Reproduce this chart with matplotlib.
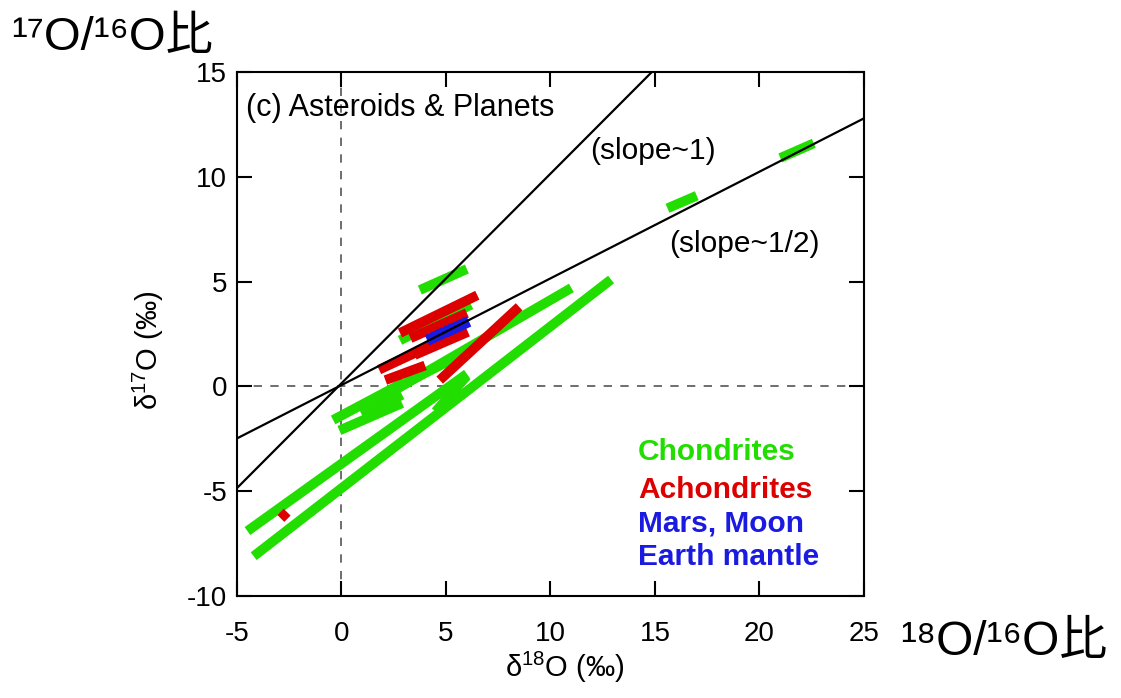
import matplotlib
matplotlib.use("Agg")
import matplotlib.pyplot as plt

plt.rcParams['font.family'] = ['Liberation Sans', 'DejaVu Sans', 'Noto Sans CJK JP']
plt.rcParams['mathtext.fontset'] = 'custom'
plt.rcParams['mathtext.rm'] = 'Liberation Sans'
plt.rcParams['mathtext.it'] = 'Liberation Sans'
plt.rcParams['axes.unicode_minus'] = False

# Reference lines
ref_slopes = [1.0, 0.509]
ref_intercepts = [0.15, 0.065]

# Chondrites (green) segments: x0, y0, x1, y1
chond_x0 = [3.75, 21.0, 15.6, -4.5, -4.2, 2.0, 4.5, -0.4, -0.1, 2.8, 0.8, 1.0]
chond_y0 = [4.6, 10.9, 8.5, -6.9, -8.1, -0.5, -1.2, -1.6, -2.1, 2.2, -1.0, -1.4]
chond_x1 = [6.0, 22.6, 17.0, 6.0, 12.9, 11.0, 6.0, 3.0, 2.9, 6.2, 5.5, 2.9]
chond_y1 = [5.6, 11.6, 9.1, 0.6, 5.1, 4.7, 0.5, 0.2, -0.8, 3.9, 1.4, -0.4]

# Achondrites (red)
achond_x0 = [2.8, 3.3, 3.5, 1.8, 2.1, 4.7, -2.9]
achond_y0 = [2.55, 2.3, 1.5, 0.8, 0.3, 0.3, -6.3]
achond_x1 = [6.5, 6.0, 6.05, 4.6, 4.0, 8.5, -2.6]
achond_y1 = [4.35, 3.5, 2.6, 2.1, 1.0, 3.8, -6.0]

# Mars, Moon, Earth mantle (blue)
planet_x0 = [4.1, 5.0]
planet_y0 = [2.2, 2.6]
planet_x1 = [5.3, 6.1]
planet_y1 = [2.75, 3.1]

xticks = [-5, 0, 5, 10, 15, 20, 25]
yticks = [-10, -5, 0, 5, 10, 15]
leg_labels = ['Chondrites', 'Achondrites', 'Mars, Moon', 'Earth mantle']

GREEN = '#22dd00'
RED = '#dd0000'
BLUE = '#1a1ae0'

fig = plt.figure(figsize=(11.21, 6.98), dpi=100)
ax = fig.add_axes([0.2114, 0.1461, 0.5593, 0.7507])
ax.set_xlim(-5, 25)
ax.set_ylim(-10, 15)

ax.axhline(0, color='#555555', lw=1.2, ls=(0, (5, 5)), zorder=1)
ax.axvline(0, color='#555555', lw=1.2, ls=(0, (5, 5)), zorder=1)

def draw(x0s, y0s, x1s, y1s, color, lw=7):
    for a, b, c, d in zip(x0s, y0s, x1s, y1s):
        ax.plot([a, c], [b, d], color=color, lw=lw, solid_capstyle='butt', zorder=2)

draw(chond_x0, chond_y0, chond_x1, chond_y1, GREEN)
draw(achond_x0, achond_y0, achond_x1, achond_y1, RED)
draw(planet_x0, planet_y0, planet_x1, planet_y1, BLUE, lw=8)

for s, b in zip(ref_slopes, ref_intercepts):
    ax.axline((0, b), slope=s, color='black', lw=1.6, zorder=3)

ax.set_xticks(xticks)
ax.set_yticks(yticks)
ax.tick_params(direction='in', length=11, width=1.5, top=True, right=True,
               labelsize=20)
ax.tick_params(axis='y', pad=7)
ax.tick_params(axis='x', pad=18)
for sp in ax.spines.values():
    sp.set_linewidth(1.5)

ax.text(-4.55, 13.3, '(c) Asteroids & Planets', fontsize=22, va='center', ha='left')
ax.text(11.9, 11.25, '(slope~1)', fontsize=21.5, va='center', ha='left')
ax.text(15.7, 6.8, '(slope~1/2)', fontsize=21.5, va='center', ha='left')

leg_colors = [GREEN, RED, BLUE, BLUE]
leg_y = [-3.15, -4.95, -6.55, -8.15]
for lab, col, yy in zip(leg_labels, leg_colors, leg_y):
    ax.text(14.2, yy, lab, color=col, fontsize=21.5, fontweight='bold',
            va='center', ha='left')

ax.text(0.523, -0.137, 'δ$^{18}$O (‰)', transform=ax.transAxes, fontsize=21,
        va='center', ha='center')
ax.text(-0.142, 0.47, 'δ$^{17}$O (‰)', transform=ax.transAxes, fontsize=21,
        va='center', ha='center', rotation=90)

fig.text(0.010, 0.928, '¹⁷O/¹⁶O比', fontsize=34, va='baseline', ha='left')
fig.text(0.803, 0.0616, '¹⁸O/¹⁶O比', fontsize=34.5, va='baseline', ha='left')

fig.savefig('out.png', dpi=100)
